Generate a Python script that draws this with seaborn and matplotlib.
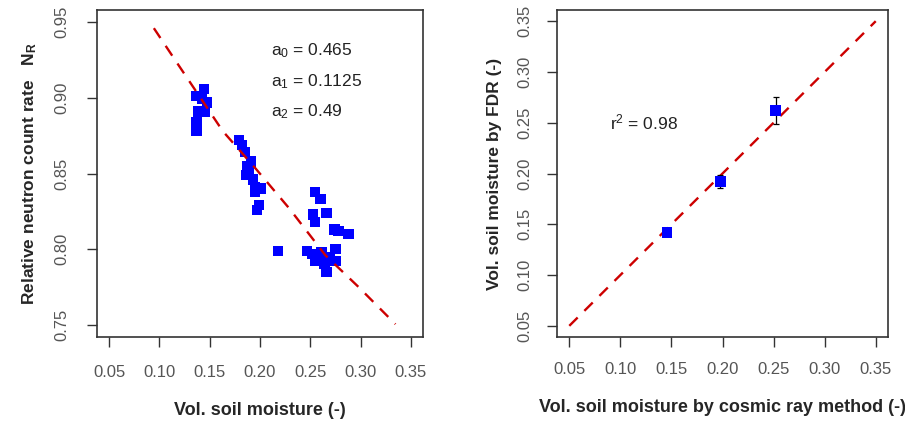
import numpy as np
import pandas as pd
import matplotlib
matplotlib.use("Agg")
import matplotlib.pyplot as plt
import seaborn as sns

# left panel: soil moisture vs relative neutron count rate
theta = [0.144, 0.137, 0.142, 0.147, 0.139, 0.145, 0.137, 0.137, 0.137,
         0.179, 0.182, 0.185, 0.191, 0.187, 0.189, 0.186, 0.193, 0.195, 0.201,
         0.195, 0.199, 0.197,
         0.218,
         0.255, 0.260, 0.266, 0.253, 0.255, 0.274, 0.278, 0.288, 0.275, 0.247,
         0.252, 0.261, 0.255, 0.260, 0.265, 0.270, 0.275, 0.269, 0.266, 0.264]
nr = [0.906, 0.901, 0.899, 0.897, 0.891, 0.891, 0.884, 0.880, 0.878,
      0.872, 0.869, 0.864, 0.858, 0.855, 0.852, 0.849, 0.846, 0.841, 0.840,
      0.838, 0.829, 0.826,
      0.799,
      0.838, 0.833, 0.824, 0.823, 0.818, 0.813, 0.812, 0.810, 0.800, 0.799,
      0.797, 0.798, 0.792, 0.792, 0.793, 0.792, 0.792, 0.795, 0.785, 0.790]

# calibration curve
curve_theta = [0.0945, 0.1186, 0.163, 0.196, 0.229, 0.265, 0.298, 0.3346]
curve_nr = [0.946, 0.922, 0.878, 0.853, 0.827, 0.796, 0.775, 0.7505]

coef_labels = ["$\\mathregular{a_0}$ = 0.465", "$\\mathregular{a_1}$ = 0.1125",
               "$\\mathregular{a_2}$ = 0.49"]
coef_y = [0.931, 0.911, 0.891]

# right panel: cosmic ray vs FDR
cosmic = [0.146, 0.198, 0.252]
fdr = [0.142, 0.192, 0.262]
fdr_err = [0.003, 0.0065, 0.0135]
one_to_one = [0.05, 0.35]

ticks = [0.05, 0.10, 0.15, 0.20, 0.25, 0.30, 0.35]
yticks_left = [0.75, 0.80, 0.85, 0.90, 0.95]

sns.set_style("ticks")
plt.rcParams['font.family'] = ['Liberation Sans', 'DejaVu Sans']
plt.rcParams['mathtext.fontset'] = 'custom'
plt.rcParams['mathtext.rm'] = 'Liberation Sans'
plt.rcParams['mathtext.bf'] = 'Liberation Sans:bold'

fig = plt.figure(figsize=(9.05, 4.28), dpi=100)
ax1 = fig.add_axes([0.1072, 0.2126, 0.3602, 0.764])
ax2 = fig.add_axes([0.6155, 0.2126, 0.3657, 0.764])

blue = "#0000FF"
red = "#CD0000"

df = pd.DataFrame({"theta": theta, "nr": nr})
sns.scatterplot(data=df, x="theta", y="nr", ax=ax1, marker="s", s=55,
                color=blue, edgecolor="none", zorder=3)
sns.lineplot(x=curve_theta, y=curve_nr, ax=ax1, sort=False, color=red,
             linewidth=1.7, zorder=4)
ax1.lines[-1].set_dashes([5, 4])
for lab, yy in zip(coef_labels, coef_y):
    ax1.text(0.211, yy, lab, fontsize=12.5, ha="left", va="center", color="#222222")
ax1.set_xlim(0.038, 0.362)
ax1.set_ylim(0.742, 0.958)
ax1.set_xticks(ticks)
ax1.set_yticks(yticks_left)
ax1.set_xticklabels([f"{t:.2f}" for t in ticks])
ax1.set_yticklabels([f"{t:.2f}" for t in yticks_left], rotation=90, va="center")
ax1.set_xlabel("Vol. soil moisture (-)", fontsize=13, fontweight="bold", labelpad=16)
ax1.set_ylabel("Relative neutron count rate   $\\mathbf{N_R}$", fontsize=12.5,
               fontweight="bold", labelpad=11)
ax1.tick_params(axis="both", length=7, width=1, labelsize=12, pad=13,
                colors="#333333", labelcolor="#555555")

df2 = pd.DataFrame({"cosmic": cosmic, "fdr": fdr})
sns.lineplot(x=one_to_one, y=one_to_one, ax=ax2, color=red, linewidth=1.7, zorder=2)
ax2.lines[-1].set_dashes([5, 4])
ax2.errorbar(cosmic, fdr, yerr=fdr_err, fmt="none", ecolor="black",
             elinewidth=0.9, capsize=2.5, capthick=0.9, zorder=3)
sns.scatterplot(data=df2, x="cosmic", y="fdr", ax=ax2, marker="s", s=55,
                color=blue, edgecolor="none", zorder=4)
ax2.text(0.09, 0.25, "$\\mathregular{r^2}$ = 0.98", fontsize=12.5, ha="left",
         va="center", color="#222222")
ax2.set_xlim(0.038, 0.362)
ax2.set_ylim(0.039, 0.361)
ax2.set_xticks(ticks)
ax2.set_yticks(ticks)
ax2.set_xticklabels([f"{t:.2f}" for t in ticks])
ax2.set_yticklabels([f"{t:.2f}" for t in ticks], rotation=90, va="center")
ax2.set_xlabel("Vol. soil moisture by cosmic ray method (-)", fontsize=13,
               fontweight="bold", labelpad=16)
ax2.set_ylabel("Vol. soil moisture by FDR (-)", fontsize=12.5, fontweight="bold",
               labelpad=11)
ax2.tick_params(axis="both", length=7, width=1, labelsize=12, pad=11,
                colors="#333333", labelcolor="#555555")

for ax in (ax1, ax2):
    for sp in ax.spines.values():
        sp.set_visible(True)
        sp.set_linewidth(1.2)
        sp.set_color("#333333")

fig.savefig("out.png", dpi=100)
